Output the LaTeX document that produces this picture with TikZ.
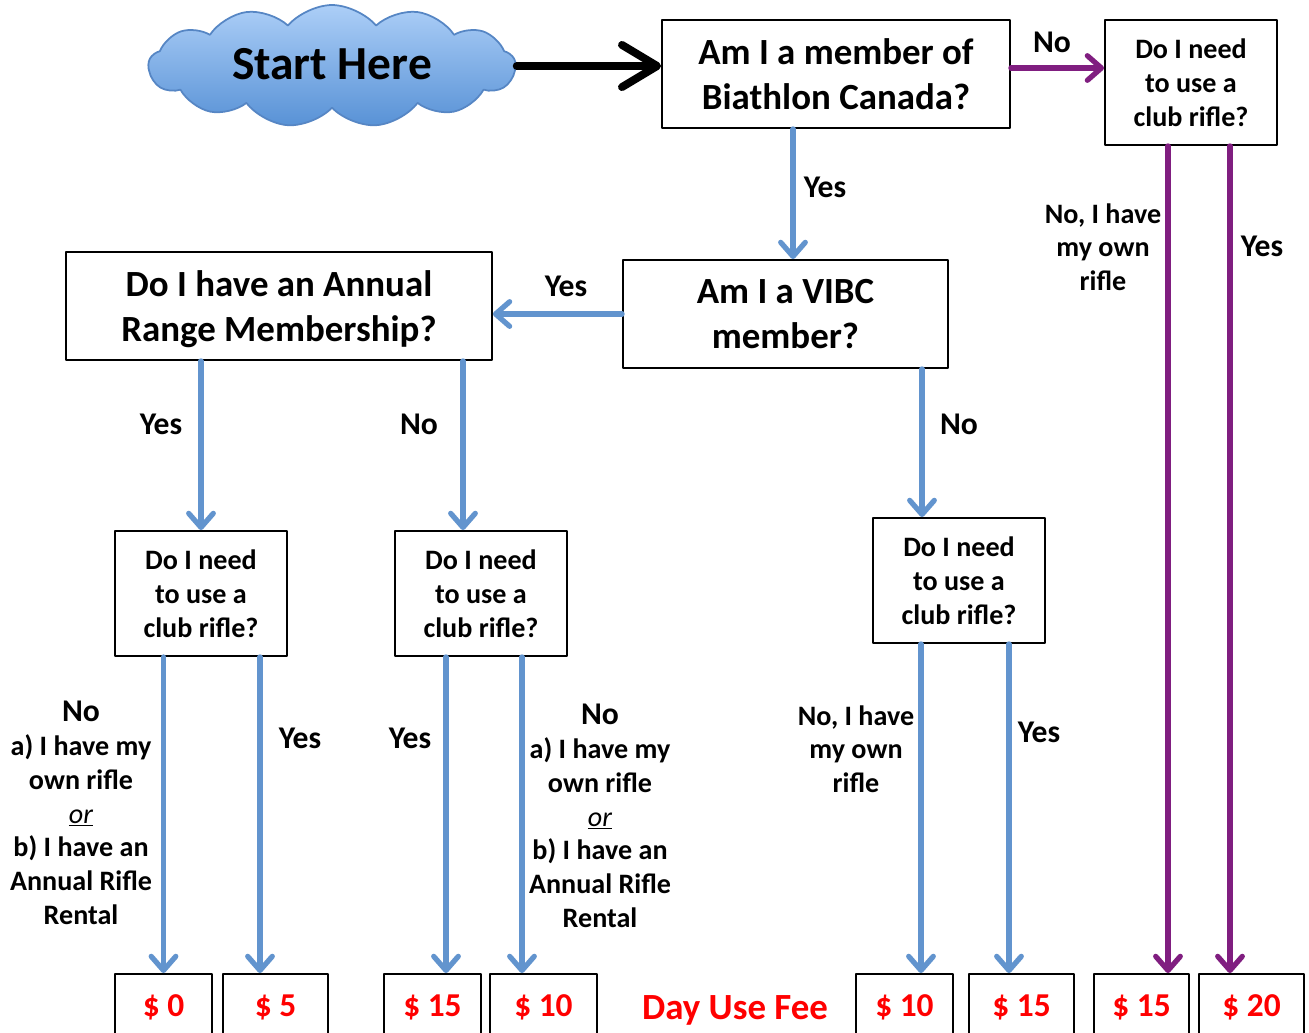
\documentclass[tikz,border=0pt]{standalone}
\usepackage{fontspec}
\setmainfont{Carlito}
\usepackage{tikz}
\usetikzlibrary{arrows.meta,shapes.symbols,calc}

\definecolor{arrowblue}{RGB}{98,148,206}
\definecolor{arrowpurple}{RGB}{128,30,128}
\definecolor{cloudtop}{RGB}{172,206,247}
\definecolor{cloudbottom}{RGB}{88,146,214}
\definecolor{cloudline}{RGB}{86,134,196}
\definecolor{feered}{RGB}{255,0,0}

\tikzset{
  qbox/.style={draw=black,line width=1.1pt,align=center,font=\bfseries\fontsize{21}{25.5}\selectfont,minimum height=2.16cm,text depth=-0.1cm},
  rifbox/.style={draw=black,line width=1.1pt,align=center,font=\bfseries\fontsize{16}{19.5}\selectfont,minimum width=3.44cm,minimum height=2.5cm},
  feebox/.style={draw=black,line width=1.1pt,text=feered,font=\bfseries\fontsize{19}{22}\selectfont,minimum height=1.32cm},
  lbl/.style={align=center,font=\bfseries\fontsize{16}{19.2}\selectfont},
  yn/.style={font=\bfseries\fontsize{18}{21}\selectfont},
  bluearr/.style={-{Straight Barb[length=8pt,width=14pt,round]},line width=3pt,draw=arrowblue},
  purparr/.style={-{Straight Barb[length=8pt,width=14pt,round]},line width=3pt,draw=arrowpurple}
}

\begin{document}
\begin{tikzpicture}[line cap=round,line join=round,x=0.02cm,y=-0.02cm]
\useasboundingbox (0,0) rectangle (1309,1032);
\clip (0,0) rectangle (1309,1032);
% question boxes
\node[cloud,cloud puffs=13,cloud puff arc=100,cloud ignores aspect,minimum width=7.34cm,minimum height=2.44cm,inner sep=0pt,
  draw=cloudline,line width=1pt,top color=cloudtop,bottom color=cloudbottom,font=\bfseries\fontsize{27}{32}\selectfont] (start) at (332,66) {\raisebox{0.08cm}{Start Here}};
\node[qbox,minimum width=6.96cm] (member) at (836,74) {Am I a member of\\Biathlon Canada?};
\node[rifbox] (clubA) at (1191,82.5) {Do I need\\to use a\\club rifle?};
\node[qbox,minimum width=6.5cm] (vibc) at (785.5,314) {Am I a VIBC\\member?};
\node[qbox,minimum width=8.52cm] (annual) at (279,306) {Do I have an Annual\\Range Membership?};
\node[rifbox] (clubB) at (201,593.5) {Do I need\\to use a\\club rifle?};
\node[rifbox] (clubC) at (481,593.5) {Do I need\\to use a\\club rifle?};
\node[rifbox] (clubD) at (959,580.5) {Do I need\\to use a\\club rifle?};
% fee boxes
\node[feebox,minimum width=1.94cm] (zero) at (163.5,1007) {\$ 0};
\node[feebox,minimum width=2.1cm] (five) at (275.5,1007) {\$ 5};
\node[feebox,minimum width=1.94cm] (fifteenA) at (432.5,1007) {\$ 15};
\node[feebox,minimum width=2.14cm] (tenA) at (543.5,1007) {\$ 10};
\node[feebox,minimum width=1.94cm] (tenB) at (904.5,1007) {\$ 10};
\node[feebox,minimum width=2.1cm] (fifteenB) at (1021.5,1007) {\$ 15};
\node[feebox,minimum width=1.9cm] (fifteenC) at (1141.5,1007) {\$ 15};
\node[feebox,minimum width=2.1cm] (twenty) at (1251.5,1007) {\$ 20};
\node[text=feered,font=\bfseries\fontsize{21}{25}\selectfont] (dayfee) at (735,1010) {Day Use Fee};
% arrows
\draw[line width=4.5pt,-{Straight Barb[length=20pt,width=24pt,round]}] (start.east) -- (start.east -| member.west);
\draw[purparr] ($(member.east)+(0,-6)$) -- ($(member.east -| clubA.west)+(0,-6)$);
\draw[bluearr] ($(member.south -| vibc.north)+(7.5,0)$) -- ($(vibc.north)+(7.5,0)$);
\draw[bluearr] (vibc.west) -- (vibc.west -| annual.east);
\draw[bluearr] (annual.south -| clubB.north) -- (clubB.north);
\draw[bluearr] ($(annual.south -| clubC.north)+(-18,0)$) -- ($(clubC.north)+(-18,0)$);
\draw[bluearr] ($(vibc.south -| clubD.north)+(-37,0)$) -- ($(clubD.north)+(-37,0)$);
\draw[bluearr] (clubB.south -| zero.north) -- (zero.north);
\draw[bluearr] ($(clubB.south -| five.north)+(-15.5,0)$) -- ($(five.north)+(-15.5,0)$);
\draw[bluearr] ($(clubC.south -| fifteenA.north)+(13.5,0)$) -- ($(fifteenA.north)+(13.5,0)$);
\draw[bluearr] ($(clubC.south -| tenA.north)+(-21.5,0)$) -- ($(tenA.north)+(-21.5,0)$);
\draw[bluearr] ($(clubD.south -| tenB.north)+(16.5,0)$) -- ($(tenB.north)+(16.5,0)$);
\draw[bluearr] ($(clubD.south -| fifteenB.north)+(-12.5,0)$) -- ($(fifteenB.north)+(-12.5,0)$);
\draw[purparr] ($(clubA.south -| fifteenC.north)+(26.5,0)$) -- ($(fifteenC.north)+(26.5,0)$);
\draw[purparr] ($(clubA.south -| twenty.north)+(-21.5,0)$) -- ($(twenty.north)+(-21.5,0)$);
% labels
\node[yn] (noMember) at (1052,42) {No};
\node[yn] (yesMember) at (825,187) {Yes};
\node[yn] (yesVibc) at (566,286) {Yes};
\node[yn] (yesAnnual) at (161,424) {Yes};
\node[yn] (noAnnual) at (419,424) {No};
\node[yn] (noVibc) at (959,424) {No};
\node[yn] (yesB) at (300,738) {Yes};
\node[yn] (yesC) at (410,738) {Yes};
\node[yn] (yesD) at (1039,732) {Yes};
\node[yn] (yesA) at (1262,246) {Yes};
\node[lbl] (ownA) at (1103,247) {No, I have\\my own\\rifle};
\node[lbl] (ownD) at (856,749) {No, I have\\my own\\rifle};
\node[lbl] (noB) at (81,813) {{\fontsize{18}{21}\selectfont No}\\a) I have my\\own rifle\\{\mdseries\itshape\underline{or}}\\b) I have an\\Annual Rifle\\Rental};
\node[lbl] (noC) at (600,816) {{\fontsize{18}{21}\selectfont No}\\a) I have my\\own rifle\\{\mdseries\itshape\underline{or}}\\b) I have an\\Annual Rifle\\Rental};
\end{tikzpicture}
\end{document}
